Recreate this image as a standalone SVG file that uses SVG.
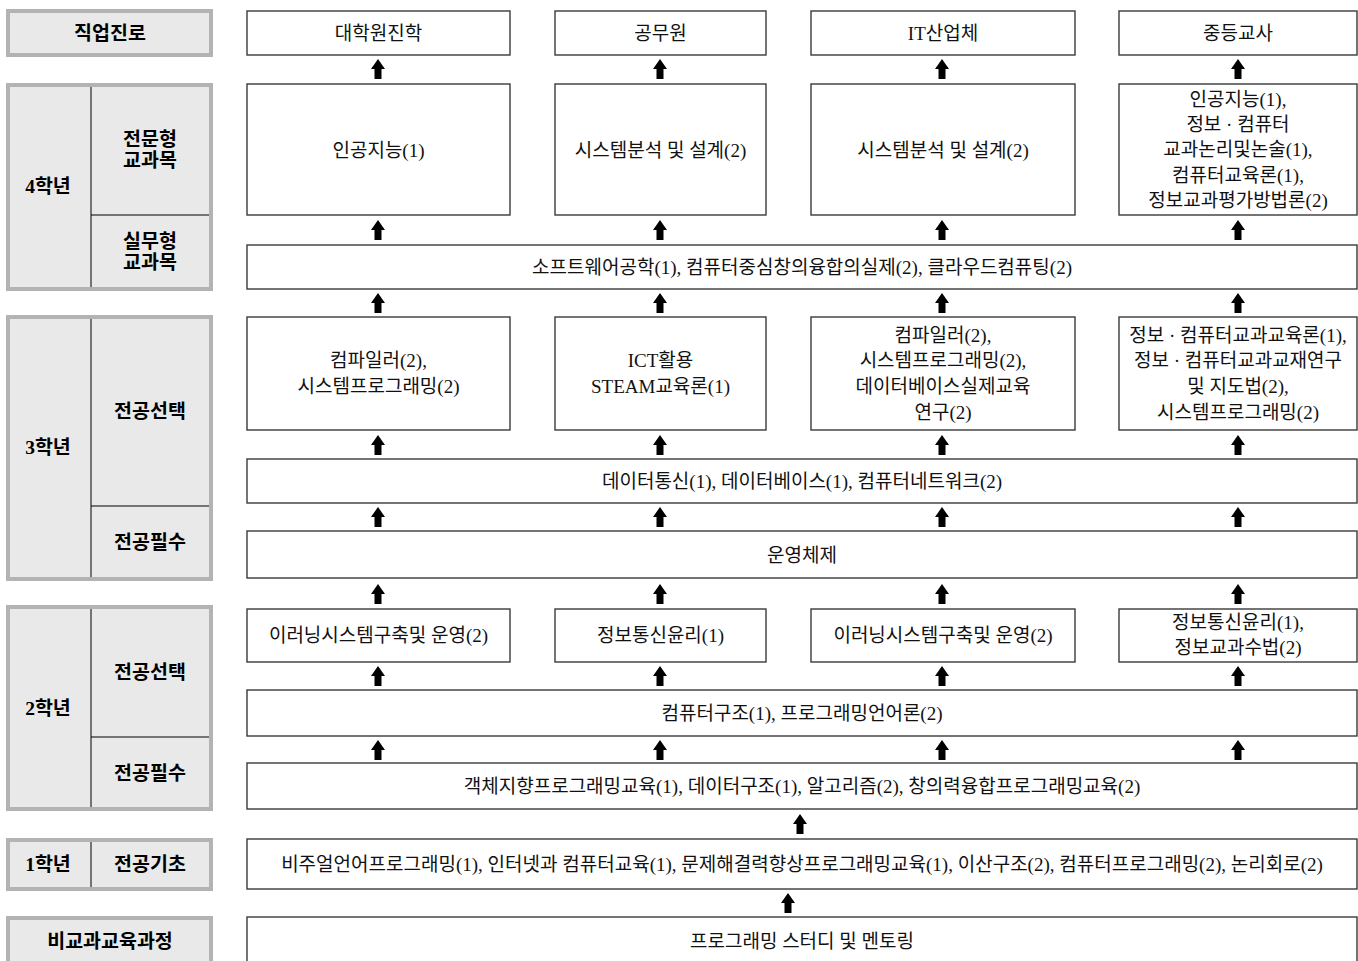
<svg xmlns="http://www.w3.org/2000/svg" xmlns:xlink="http://www.w3.org/1999/xlink" width="1358" height="961" viewBox="0 0 1358 961">
<style>
.hd{fill:#e9e9e9;stroke:#b3b3b3;stroke-width:4}
.ln{stroke:#000;stroke-width:1;fill:none}
.bx{fill:#fff;stroke:#3a3a3a;stroke-width:1.4}
.ht{font-family:"Liberation Serif","Noto Sans CJK KR",serif;font-weight:bold;font-size:19.5px;fill:#000;text-anchor:middle}
.t{font-family:"Liberation Serif","Noto Sans CJK KR",serif;font-size:19px;fill:#111;text-anchor:middle}
</style>
<defs>
<path id="ar" d="M0,0 L7,10 L3.5,10 L3.5,20 L-3.5,20 L-3.5,10 L-7,10 Z" fill="#000"/>
</defs>
<rect width="1358" height="961" fill="#fff"/>

<g id="headers">
<g id="h-career"><rect class="hd" x="8" y="11" width="203" height="44"/><text class="ht" x="110" y="40">직업진로</text></g>
<g id="h-y4">
<rect class="hd" x="8" y="85" width="203" height="204"/>
<line class="ln" x1="91" y1="87" x2="91" y2="287"/>
<line class="ln" x1="91" y1="215" x2="209" y2="215"/>
<text class="ht" x="48" y="193">4학년</text>
<text class="ht" x="150" y="146">전문형</text><text class="ht" x="150" y="167">교과목</text>
<text class="ht" x="150" y="248">실무형</text><text class="ht" x="150" y="269">교과목</text>
</g>
<g id="h-y3">
<rect class="hd" x="8" y="317" width="203" height="262"/>
<line class="ln" x1="91" y1="319" x2="91" y2="577"/>
<line class="ln" x1="91" y1="506" x2="209" y2="506"/>
<text class="ht" x="48" y="454">3학년</text>
<text class="ht" x="150" y="418">전공선택</text>
<text class="ht" x="150" y="549">전공필수</text>
</g>
<g id="h-y2">
<rect class="hd" x="8" y="607" width="203" height="202"/>
<line class="ln" x1="91" y1="609" x2="91" y2="807"/>
<line class="ln" x1="91" y1="737" x2="209" y2="737"/>
<text class="ht" x="48" y="715">2학년</text>
<text class="ht" x="150" y="679">전공선택</text>
<text class="ht" x="150" y="780">전공필수</text>
</g>
<g id="h-y1">
<rect class="hd" x="8" y="840" width="203" height="49"/>
<line class="ln" x1="91" y1="842" x2="91" y2="887"/>
<text class="ht" x="48" y="871">1학년</text>
<text class="ht" x="150" y="871">전공기초</text>
</g>
<g id="h-extra"><rect class="hd" x="8" y="918" width="203" height="50"/><text class="ht" x="110" y="948">비교과교육과정</text></g>
</g>

<g id="career">
<g id="c1"><rect class="bx" x="247" y="11" width="263" height="44"/><text class="t" x="378.5" y="40">대학원진학</text></g>
<g id="c2"><rect class="bx" x="555" y="11" width="211" height="44"/><text class="t" x="660.5" y="40">공무원</text></g>
<g id="c3"><rect class="bx" x="811" y="11" width="264" height="44"/><text class="t" x="943" y="40">IT산업체</text></g>
<g id="c4"><rect class="bx" x="1119" y="11" width="238" height="44"/><text class="t" x="1238" y="40">중등교사</text></g>
</g>

<g id="y4">
<g id="y4a"><rect class="bx" x="247" y="84" width="263" height="131"/><text class="t" x="378.5" y="157">인공지능(1)</text></g>
<g id="y4b"><rect class="bx" x="555" y="84" width="211" height="131"/><text class="t" x="660.5" y="157">시스템분석 및 설계(2)</text></g>
<g id="y4c"><rect class="bx" x="811" y="84" width="264" height="131"/><text class="t" x="943" y="157">시스템분석 및 설계(2)</text></g>
<g id="y4d"><rect class="bx" x="1119" y="84" width="238" height="131"/>
<text class="t" x="1238" y="106">인공지능(1),</text>
<text class="t" x="1238" y="131">정보 · 컴퓨터</text>
<text class="t" x="1238" y="156">교과논리및논술(1),</text>
<text class="t" x="1238" y="182">컴퓨터교육론(1),</text>
<text class="t" x="1238" y="207">정보교과평가방법론(2)</text></g>
<g id="y4p"><rect class="bx" x="247" y="245" width="1110" height="44"/><text class="t" x="802" y="274">소프트웨어공학(1), 컴퓨터중심창의융합의실제(2), 클라우드컴퓨팅(2)</text></g>
</g>

<g id="y3">
<g id="y3a"><rect class="bx" x="247" y="317" width="263" height="113"/><text class="t" x="378.5" y="367">컴파일러(2),</text><text class="t" x="378.5" y="393">시스템프로그래밍(2)</text></g>
<g id="y3b"><rect class="bx" x="555" y="317" width="211" height="113"/><text class="t" x="660.5" y="367">ICT활용</text><text class="t" x="660.5" y="393">STEAM교육론(1)</text></g>
<g id="y3c"><rect class="bx" x="811" y="317" width="264" height="113"/>
<text class="t" x="943" y="342">컴파일러(2),</text>
<text class="t" x="943" y="367">시스템프로그래밍(2),</text>
<text class="t" x="943" y="393">데이터베이스실제교육</text>
<text class="t" x="943" y="419">연구(2)</text></g>
<g id="y3d"><rect class="bx" x="1119" y="317" width="238" height="113"/>
<text class="t" x="1238" y="342">정보 · 컴퓨터교과교육론(1),</text>
<text class="t" x="1238" y="367">정보 · 컴퓨터교과교재연구</text>
<text class="t" x="1238" y="393">및 지도법(2),</text>
<text class="t" x="1238" y="419">시스템프로그래밍(2)</text></g>
<g id="y3e"><rect class="bx" x="247" y="459" width="1110" height="44"/><text class="t" x="802" y="488">데이터통신(1), 데이터베이스(1), 컴퓨터네트워크(2)</text></g>
<g id="y3f"><rect class="bx" x="247" y="531" width="1110" height="47"/><text class="t" x="802" y="562">운영체제</text></g>
</g>

<g id="y2">
<g id="y2a"><rect class="bx" x="247" y="609" width="263" height="53"/><text class="t" x="378.5" y="642">이러닝시스템구축및 운영(2)</text></g>
<g id="y2b"><rect class="bx" x="555" y="609" width="211" height="53"/><text class="t" x="660.5" y="642">정보통신윤리(1)</text></g>
<g id="y2c"><rect class="bx" x="811" y="609" width="264" height="53"/><text class="t" x="943" y="642">이러닝시스템구축및 운영(2)</text></g>
<g id="y2d"><rect class="bx" x="1119" y="609" width="238" height="53"/><text class="t" x="1238" y="629">정보통신윤리(1),</text><text class="t" x="1238" y="654">정보교과수법(2)</text></g>
<g id="y2e"><rect class="bx" x="247" y="690" width="1110" height="46"/><text class="t" x="802" y="720">컴퓨터구조(1), 프로그래밍언어론(2)</text></g>
<g id="y2f"><rect class="bx" x="247" y="763" width="1110" height="46"/><text class="t" x="802" y="793">객체지향프로그래밍교육(1), 데이터구조(1), 알고리즘(2), 창의력융합프로그래밍교육(2)</text></g>
</g>

<g id="y1"><rect class="bx" x="247" y="839" width="1110" height="50"/><text class="t" x="802" y="871">비주얼언어프로그래밍(1), 인터넷과 컴퓨터교육(1), 문제해결력향상프로그래밍교육(1), 이산구조(2), 컴퓨터프로그래밍(2), 논리회로(2)</text></g>
<g id="extra"><rect class="bx" x="247" y="917" width="1110" height="50"/><text class="t" x="802" y="948">프로그래밍 스터디 및 멘토링</text></g>

<g id="connectors">
<use xlink:href="#ar" x="378" y="59"/><use xlink:href="#ar" x="660" y="59"/><use xlink:href="#ar" x="942" y="59"/><use xlink:href="#ar" x="1238" y="59"/>
<use xlink:href="#ar" x="378" y="220"/><use xlink:href="#ar" x="660" y="220"/><use xlink:href="#ar" x="942" y="220"/><use xlink:href="#ar" x="1238" y="220"/>
<use xlink:href="#ar" x="378" y="293"/><use xlink:href="#ar" x="660" y="293"/><use xlink:href="#ar" x="942" y="293"/><use xlink:href="#ar" x="1238" y="293"/>
<use xlink:href="#ar" x="378" y="435"/><use xlink:href="#ar" x="660" y="435"/><use xlink:href="#ar" x="942" y="435"/><use xlink:href="#ar" x="1238" y="435"/>
<use xlink:href="#ar" x="378" y="507"/><use xlink:href="#ar" x="660" y="507"/><use xlink:href="#ar" x="942" y="507"/><use xlink:href="#ar" x="1238" y="507"/>
<use xlink:href="#ar" x="378" y="584"/><use xlink:href="#ar" x="660" y="584"/><use xlink:href="#ar" x="942" y="584"/><use xlink:href="#ar" x="1238" y="584"/>
<use xlink:href="#ar" x="378" y="666"/><use xlink:href="#ar" x="660" y="666"/><use xlink:href="#ar" x="942" y="666"/><use xlink:href="#ar" x="1238" y="666"/>
<use xlink:href="#ar" x="378" y="740"/><use xlink:href="#ar" x="660" y="740"/><use xlink:href="#ar" x="942" y="740"/><use xlink:href="#ar" x="1238" y="740"/>
<use xlink:href="#ar" x="800" y="814"/>
<use xlink:href="#ar" x="788" y="893"/>
</g>
</svg>
